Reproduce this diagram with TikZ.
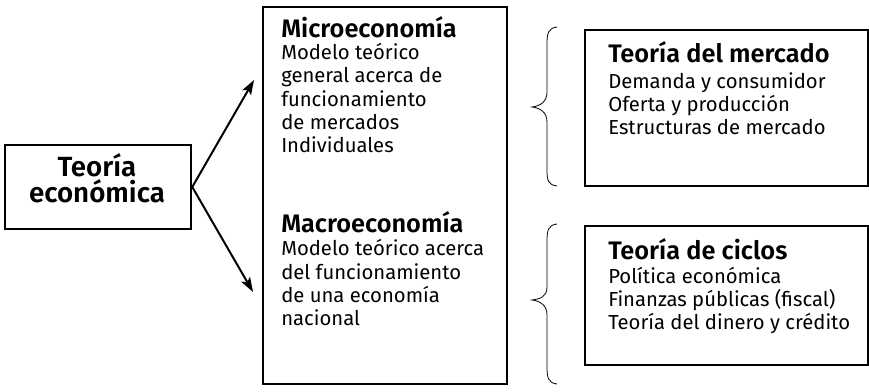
\documentclass[tikz,border=0pt]{standalone}
\usepackage{fontspec}
\setmainfont{Fira Sans}[BoldFont={Fira Sans SemiBold}]
\usetikzlibrary{arrows.meta}
\begin{document}
\begin{tikzpicture}[x=0.75pt,y=-0.75pt,
  box/.style={draw, line width=1.9pt, inner sep=0pt},
  txt/.style={anchor=base west, align=left, inner sep=0pt, font=\fontsize{15.2}{17.5}\selectfont},
  ttl/.style={anchor=base west, inner sep=0pt, font=\fontsize{19}{20}\selectfont\bfseries},
  arr/.style={line width=1.5pt, -{Stealth[length=11pt, width=7.5pt, inset=2.5pt]}},
  brc/.style={line width=0.6pt}]
\useasboundingbox (0,0) rectangle (869,392);
% boxes
\node[box, minimum width=139.5pt, minimum height=63pt] (teo) at (98,187) {};
\node[anchor=base, align=center, inner sep=0pt,
      font=\fontsize{20.8}{19.5}\selectfont\bfseries] (teot) at (97,203) {Teoría\\económica};
\node[box, minimum width=183pt, minimum height=282.75pt] (cen) at (385,195.5) {};
\node[box, minimum width=212.25pt, minimum height=117pt] (rt) at (726.5,108) {};
\node[box, minimum width=212.25pt, minimum height=104.25pt] (rb) at (726.5,295.5) {};
% center texts (anchored at the baseline of the last line)
\node[ttl] (mit) at (281,38) {Microeconomía};
\node[txt] (mib) at (281,153) {Modelo teórico\\general acerca de\\funcionamiento\\de mercados\\Individuales};
\node[ttl] (mat) at (281,233) {Macroeconomía};
\node[txt] (mab) at (281,326) {Modelo teórico acerca\\del funcionamiento\\de una economía\\nacional};
% right texts
\node[ttl] (rtt) at (608,63) {Teoría del mercado};
\node[txt] (rtb) at (608,135) {Demanda y consumidor\\Oferta y producción\\Estructuras de mercado};
\node[ttl] (rbt) at (608,260) {Teoría de ciclos};
\node[txt] (rbb) at (608,330) {Política económica\\Finanzas públicas (fiscal)\\Teoría del dinero y crédito};
% arrows
\coordinate (a1) at (254,80);
\coordinate (a2) at (253,292);
\draw[arr] (teo.east) -- (a1);
\draw[arr] (teo.east) -- (a2);
% braces
\draw[brc] (557,27) .. controls (548,28) and (547,34) .. (547,44) -- (547,92)
  .. controls (547,102) and (540,106) .. (532,107)
  .. controls (540,108) and (547,112) .. (547,122) -- (547,170)
  .. controls (547,180) and (548,185) .. (557,186);
\draw[brc] (557,224) .. controls (548,225) and (547,231) .. (547,241) -- (547,287)
  .. controls (547,297) and (540,299) .. (532,300)
  .. controls (540,301) and (547,305) .. (547,315) -- (547,367)
  .. controls (547,377) and (548,383) .. (557,384);
\end{tikzpicture}
\end{document}
